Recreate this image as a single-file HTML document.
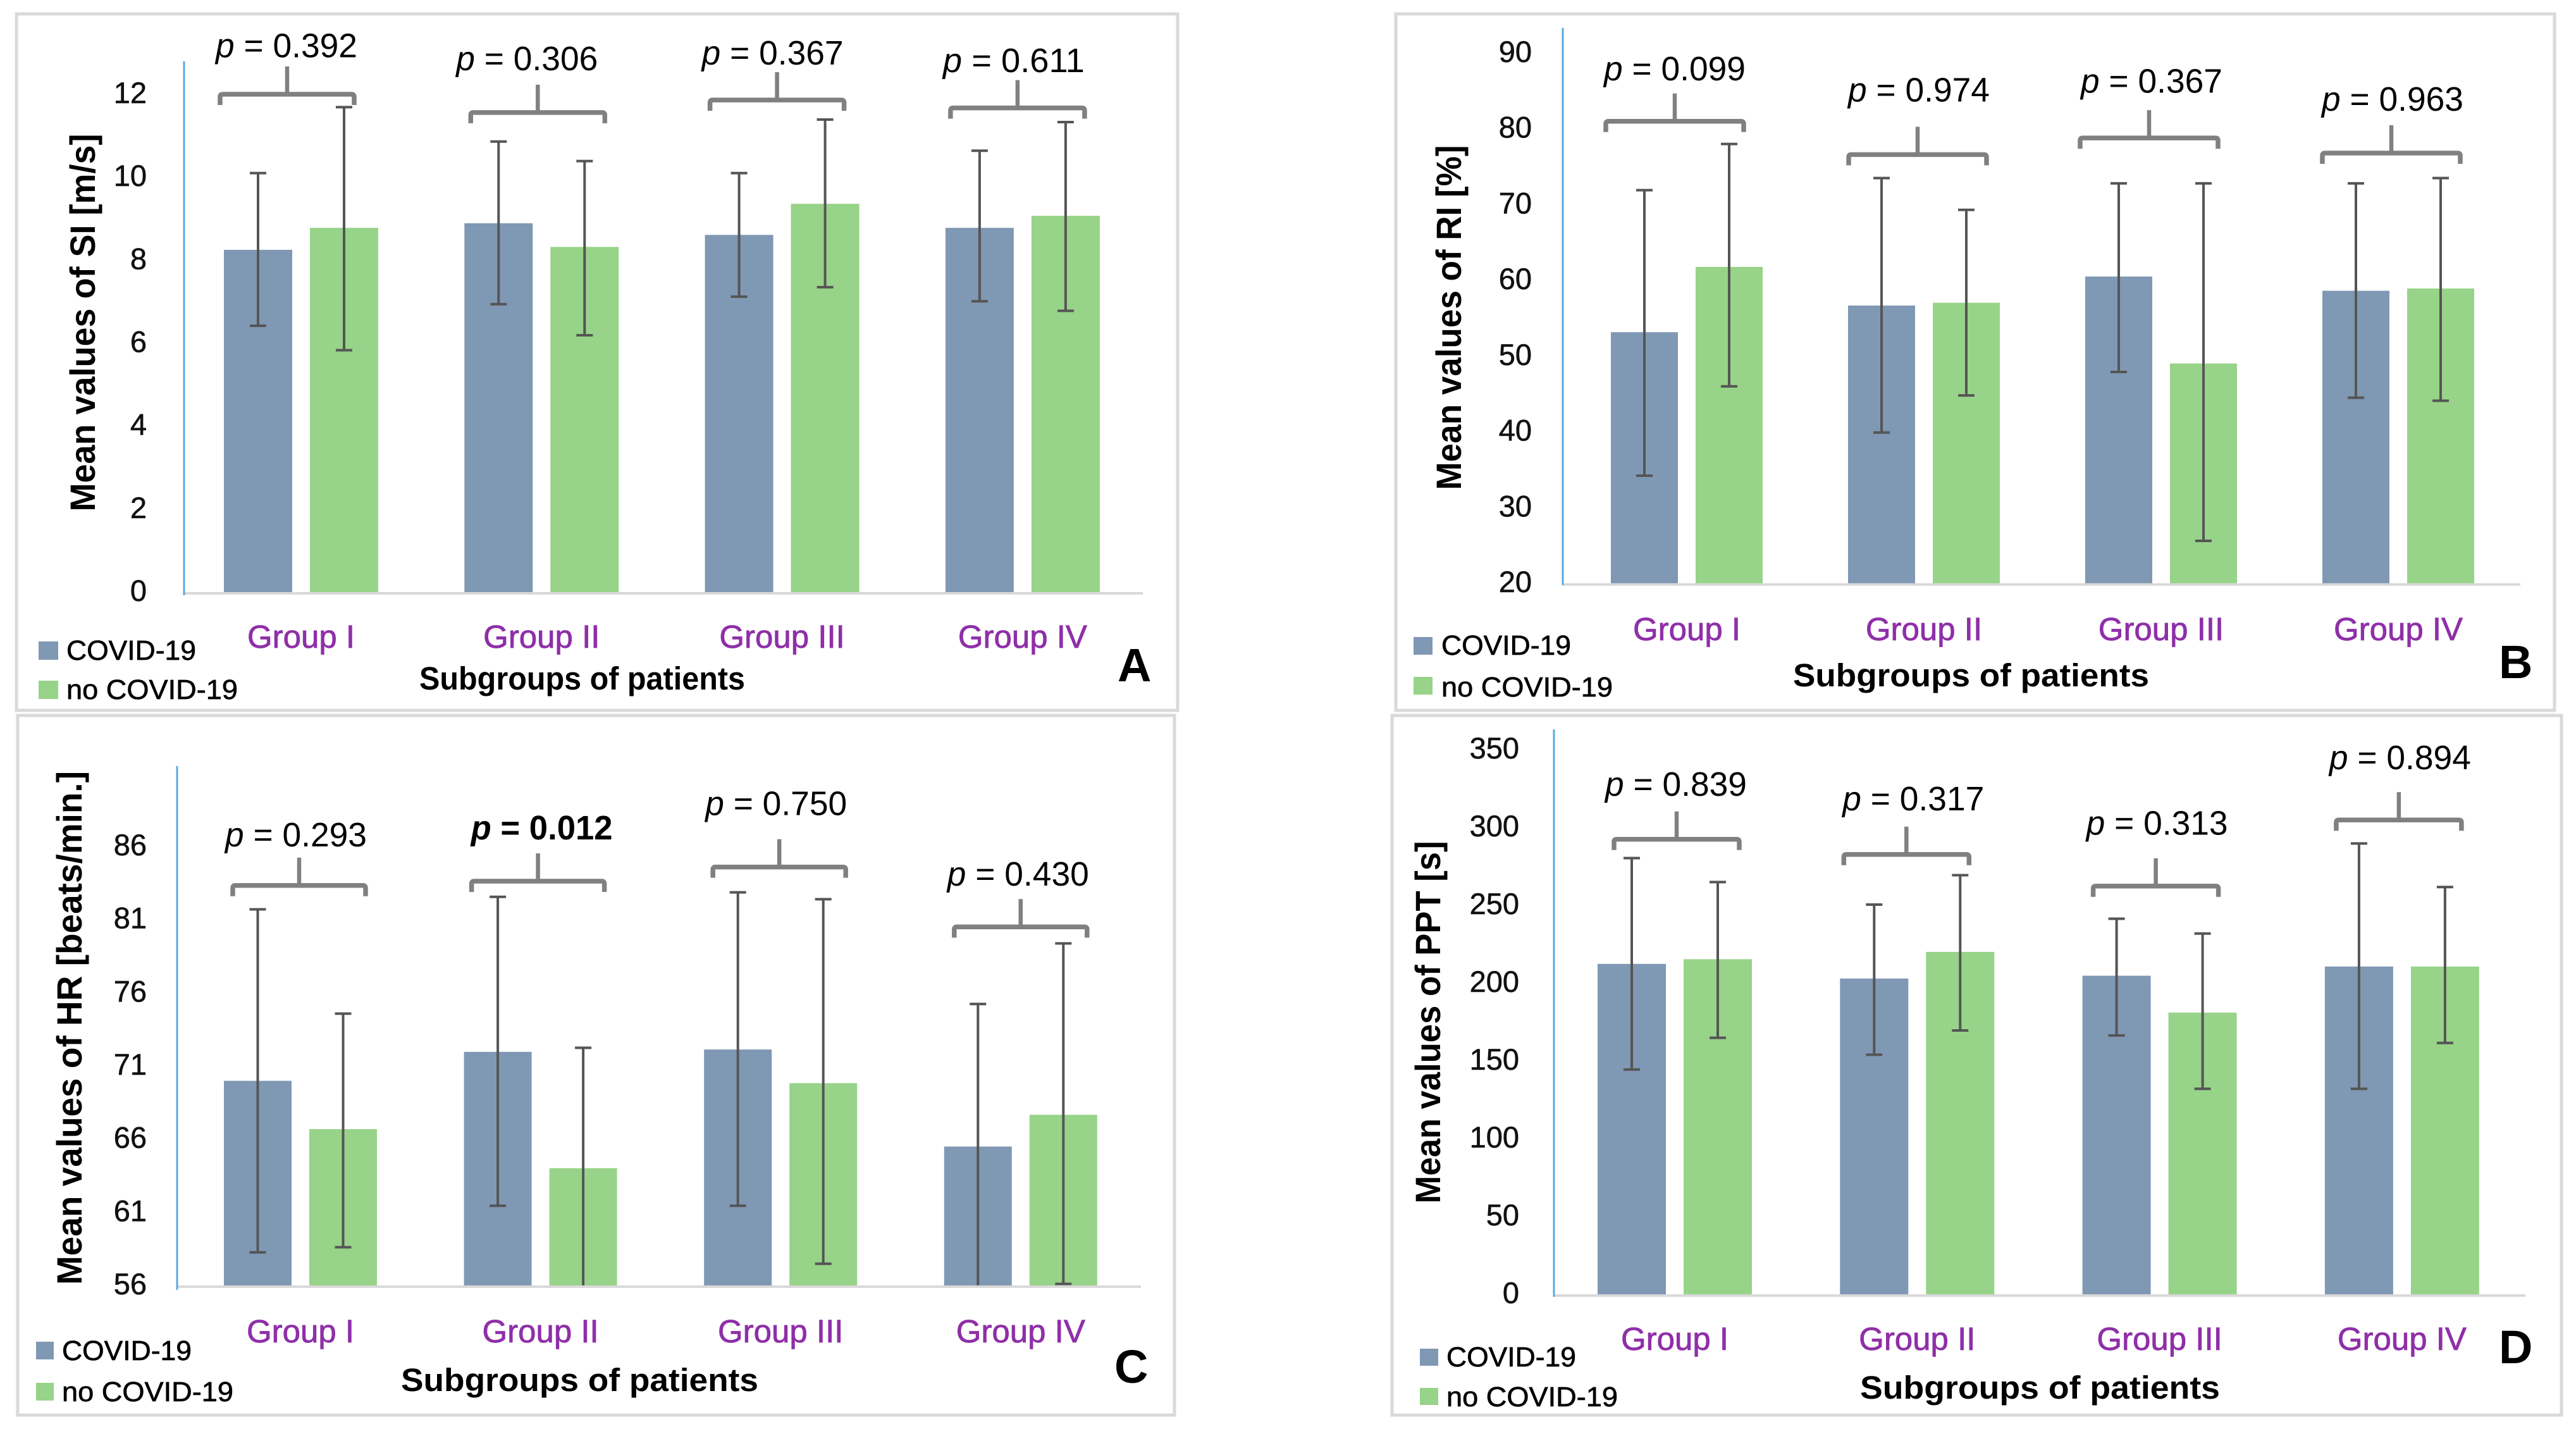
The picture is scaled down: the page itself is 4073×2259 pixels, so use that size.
<!DOCTYPE html>
<html lang="en">
<head>
<meta charset="utf-8">
<title>Mean values by subgroup of patients, COVID-19 vs no COVID-19</title>
<style>
html,body{margin:0;padding:0;background:#fff}
svg{display:block;font-family:"Liberation Sans",sans-serif}
</style>
</head>
<body>
<svg id="figure" xmlns="http://www.w3.org/2000/svg" width="4073" height="2259" viewBox="0 0 4073 2259"></svg>
<script>
const categories = ['Group I', 'Group II', 'Group III', 'Group IV'];
const seriesNames = ['COVID-19', 'no COVID-19'];

const siTicks = [0, 2, 4, 6, 8, 10, 12];
const siCovidMeans = [8.25, 8.89, 8.61, 8.78];
const siNoCovidMeans = [8.78, 8.32, 9.36, 9.07];
const siCovidUpper = [10.10, 10.86, 10.10, 10.64];
const siCovidLower = [6.42, 6.94, 7.12, 7.01];
const siNoCovidUpper = [11.69, 10.39, 11.39, 11.33];
const siNoCovidLower = [5.83, 6.19, 7.35, 6.78];
const siPValues = [0.392, 0.306, 0.367, 0.611];
const siBracketLevels = [12.0, 11.56, 11.86, 11.67];
const siPLabelLevels = [12.89, 12.58, 12.72, 12.53];

const riTicks = [20, 30, 40, 50, 60, 70, 80, 90];
const riCovidMeans = [53.15, 56.67, 60.5, 58.62];
const riNoCovidMeans = [61.77, 57.04, 49.02, 58.92];
const riCovidUpper = [71.9, 73.5, 72.8, 72.8];
const riCovidLower = [34.2, 39.9, 47.9, 44.5];
const riNoCovidUpper = [78.0, 69.3, 72.8, 73.5];
const riNoCovidLower = [46.0, 44.8, 25.6, 44.1];
const riPValues = [0.099, 0.974, 0.367, 0.963];
const riBracketLevels = [81.0, 76.6, 78.8, 76.8];
const riPLabelLevels = [86.4, 83.6, 84.8, 82.4];

const hrTicks = [56, 61, 66, 71, 76, 81, 86];
const hrCovidMeans = [69.98, 71.96, 72.12, 65.49];
const hrNoCovidMeans = [66.68, 64.01, 69.82, 67.66];
const hrCovidUpper = [81.7, 82.55, 82.86, 75.23];
const hrCovidLower = [58.26, 61.44, 61.44, 55.6];
const hrNoCovidUpper = [74.57, 72.24, 82.39, 79.37];
const hrNoCovidLower = [58.61, 55.6, 57.48, 56.1];
const hrPValues = [0.293, 0.012, 0.750, 0.430];
const hrBracketLevels = [83.33, 83.62, 84.59, 80.5];
const hrPLabelLevels = [86.0, 86.47, 88.14, 83.33];

const pptTicks = [0, 50, 100, 150, 200, 250, 300, 350];
const pptCovidMeans = [212.3, 202.9, 204.7, 210.6];
const pptNoCovidMeans = [215.3, 220, 181, 210.6];
const pptCovidUpper = [280.3, 250.4, 241.3, 289.7];
const pptCovidLower = [144.4, 153.9, 166.3, 132];
const pptNoCovidUpper = [264.9, 269.3, 231.8, 261.7];
const pptNoCovidLower = [164.8, 169.5, 132, 161.5];
const pptPValues = [0.839, 0.317, 0.313, 0.894];
const pptBracketLevels = [292.4, 282.6, 262.3, 304.8];
const pptPLabelLevels = [320.4, 311, 295.3, 337.3];

const NS = 'http://www.w3.org/2000/svg';
const BLUE = '#7f98b4';
const GREEN = '#97d388';
const ERR = '#555555';
const BRK = '#808080';
const GRID = '#d9d9d9';
const AXIS = '#5aa9df';
const PURPLE = '#8f2fa8';
const svg = document.getElementById('figure');

function mk(tag, attrs, parent) {
  const n = document.createElementNS(NS, tag);
  for (const k in attrs) n.setAttribute(k, attrs[k]);
  parent.appendChild(n);
  return n;
}
function mkText(str, attrs, parent) {
  const n = mk('text', attrs, parent);
  n.textContent = str;
  return n;
}

const panels = [
  { key: 'si', letter: 'A', title: 'Mean values of SI [m/s]', ticks: siTicks,
    means: [siCovidMeans, siNoCovidMeans], upper: [siCovidUpper, siNoCovidUpper], lower: [siCovidLower, siNoCovidLower],
    pValues: siPValues, bracketLevels: siBracketLevels, pLabelLevels: siPLabelLevels,
    box: { x: 26, y: 22, r: 1862, b: 1123 }, axisX: 291, axisTop: 97, axisBottom: 941, baseEnd: 1807, yBase: 936, yLast: 149,
    first: 476, step: 380.3, barW: 108, gap: 28, tickX: 232,
    bracketW: 212, bracketShift: [-22, -6, -8, -8], pShift: [-23, -23, -15, -14],
    yTitleX: 150, yTitleY: 510, yTitleLen: 597, catY: 1024,
    legendX: 61, legendW: 31, legendY: [1014, 1076], legendH: 29, legendTextX: 105, legendTextY: [1043, 1105],
    xTitleX: 663, xTitleY: 1090, xTitleLen: 515, letterX: 1767, letterY: 1077 },
  { key: 'ri', letter: 'B', title: 'Mean values of RI [%]', ticks: riTicks,
    means: [riCovidMeans, riNoCovidMeans], upper: [riCovidUpper, riNoCovidUpper], lower: [riCovidLower, riNoCovidLower],
    pValues: riPValues, bracketLevels: riBracketLevels, pLabelLevels: riPLabelLevels,
    box: { x: 2207, y: 22, r: 4039, b: 1123 }, axisX: 2471, axisTop: 44, axisBottom: 925, baseEnd: 3985, yBase: 922, yLast: 84,
    first: 2667, step: 375, barW: 106, gap: 28, tickX: 2422,
    bracketW: 218, bracketShift: [-19, -10, -19, -11], pShift: [-19, -8, -15, -9],
    yTitleX: 2310, yTitleY: 502, yTitleLen: 545, catY: 1012,
    legendX: 2235, legendW: 30, legendY: [1007, 1070], legendH: 28, legendTextX: 2279, legendTextY: [1035, 1101],
    xTitleX: 2835, xTitleY: 1085, xTitleLen: 563, letterX: 3951, letterY: 1072 },
  { key: 'hr', letter: 'C', title: 'Mean values of HR [beats/min.]', ticks: hrTicks,
    means: [hrCovidMeans, hrNoCovidMeans], upper: [hrCovidUpper, hrNoCovidUpper], lower: [hrCovidLower, hrNoCovidLower],
    pValues: hrPValues, bracketLevels: hrBracketLevels, pLabelLevels: hrPLabelLevels,
    box: { x: 28, y: 1131, r: 1857, b: 2237 }, axisX: 280, axisTop: 1211, axisBottom: 2039, baseEnd: 1804, yBase: 2032, yLast: 1338,
    first: 475, step: 379.6, barW: 107, gap: 28, tickX: 232,
    bracketW: 210, bracketShift: [-2, -4, -2, 0], pShift: [-7, 2, -7, -4],
    yTitleX: 129, yTitleY: 1625, yTitleLen: 812, catY: 2122,
    legendX: 57, legendW: 28, legendY: [2121, 2186], legendH: 28, legendTextX: 98, legendTextY: [2150, 2215],
    xTitleX: 634, xTitleY: 2199, xTitleLen: 565, letterX: 1762, letterY: 2186 },
  { key: 'ppt', letter: 'D', title: 'Mean values of PPT [s]', ticks: pptTicks,
    means: [pptCovidMeans, pptNoCovidMeans], upper: [pptCovidUpper, pptNoCovidUpper], lower: [pptCovidLower, pptNoCovidLower],
    pValues: pptPValues, bracketLevels: pptBracketLevels, pLabelLevels: pptPLabelLevels,
    box: { x: 2201, y: 1131, r: 4050, b: 2237 }, axisX: 2457, axisTop: 1153, axisBottom: 2050, baseEnd: 3993, yBase: 2046, yLast: 1185,
    first: 2648, step: 383.3, barW: 108, gap: 28, tickX: 2402,
    bracketW: 198, bracketShift: [3, -17, -6, -5], pShift: [2, -6, -4, -3],
    yTitleX: 2277, yTitleY: 1616, yTitleLen: 573, catY: 2134,
    legendX: 2245, legendW: 29, legendY: [2132, 2194], legendH: 27, legendTextX: 2287, legendTextY: [2160, 2223],
    xTitleX: 2941, xTitleY: 2211, xTitleLen: 569, letterX: 3951, letterY: 2155 }
];

function drawPanel(p) {
  const first = p.ticks[0];
  const last = p.ticks[p.ticks.length - 1];
  const yScale = v => p.yBase - (v - first) * (p.yBase - p.yLast) / (last - first);
  const groupX = i => p.first + i * p.step;
  const barOffset = (p.barW + p.gap) / 2;

  const g = mk('g', {}, svg);
  
  

  const frame = mk('rect', { x: p.box.x, y: p.box.y, width: p.box.r - p.box.x, height: p.box.b - p.box.y, fill: '#fff', stroke: GRID, 'stroke-width': 5 }, g);
  
  

  const baseLine = mk('line', { x1: p.axisX, x2: p.baseEnd, y1: p.yBase + 2, y2: p.yBase + 2, stroke: GRID, 'stroke-width': 4 }, g);
  
  

  const axisLine = mk('line', { x1: p.axisX, x2: p.axisX, y1: p.axisTop, y2: p.axisBottom, stroke: AXIS, 'stroke-width': 3 }, g);
  
  

  p.ticks.forEach(t => {
    const label = mkText(String(t), { x: p.tickX, y: yScale(t) + 14, 'font-size': 47, 'text-anchor': 'end', fill: '#111', stroke: '#111', 'stroke-width': 0.6 }, g);
    
    
  });

  const yTitle = mkText(p.title, { transform: 'translate(' + p.yTitleX + ',' + p.yTitleY + ') rotate(-90)', 'font-size': 56, 'font-weight': 'bold', 'text-anchor': 'middle', textLength: p.yTitleLen, lengthAdjust: 'spacingAndGlyphs', fill: '#000' }, g);
  
  

  categories.forEach((cat, i) => {
    const cx = groupX(i);
    [0, 1].forEach(s => {
      const bx = cx + (s === 0 ? -barOffset : barOffset);
      const top = yScale(p.means[s][i]);
      const bar = mk('rect', { x: bx - p.barW / 2, y: top, width: p.barW, height: p.yBase - top, fill: s === 0 ? BLUE : GREEN }, g);
      
      

      const up = yScale(p.upper[s][i]);
      const lo = yScale(p.lower[s][i]);
      const clipped = lo > p.yBase;
      const loEnd = clipped ? p.yBase : lo;
      let d = 'M' + (bx - 13) + ' ' + up + 'H' + (bx + 13) + 'M' + bx + ' ' + up + 'V' + loEnd;
      if (!clipped) d += 'M' + (bx - 13) + ' ' + lo + 'H' + (bx + 13);
      const err = mk('path', { d: d, fill: 'none', stroke: ERR, 'stroke-width': 4 }, g);
      
      
    });

    const catLabel = mkText(cat, { x: cx, y: p.catY, 'font-size': 51, 'text-anchor': 'middle', fill: PURPLE, stroke: PURPLE, 'stroke-width': 0.8 }, g);
    
    

    const bc = cx + p.bracketShift[i];
    const by = yScale(p.bracketLevels[i]);
    const hw = p.bracketW / 2;
    const bracket = mk('path', { d: 'M' + (bc - hw) + ' ' + (by + 17) + 'V' + (by + 4) + 'Q' + (bc - hw) + ' ' + by + ' ' + (bc - hw + 4) + ' ' + by + 'H' + (bc + hw - 4) + 'Q' + (bc + hw) + ' ' + by + ' ' + (bc + hw) + ' ' + (by + 4) + 'V' + (by + 17), fill: 'none', stroke: BRK, 'stroke-width': 7.5 }, g);
    
    

    const stem = mk('line', { x1: bc, x2: bc, y1: by, y2: by - 44, stroke: BRK, 'stroke-width': 6.5 }, g);
    
    

    const pv = p.pValues[i];
    const pLabel = mk('text', { x: cx + p.pShift[i], y: yScale(p.pLabelLevels[i]), 'font-size': 54, 'text-anchor': 'middle', fill: '#000', 'font-weight': pv < 0.05 ? 'bold' : 'normal', textLength: 224, lengthAdjust: 'spacingAndGlyphs' }, g);
    
    
    const pItalic = mk('tspan', { 'font-style': 'italic' }, pLabel);
    pItalic.textContent = 'p';
    pLabel.appendChild(document.createTextNode(' = ' + pv.toFixed(3)));
  });

  seriesNames.forEach((name, s) => {
    const swatch = mk('rect', { x: p.legendX, y: p.legendY[s], width: p.legendW, height: p.legendH, fill: s === 0 ? BLUE : GREEN }, g);
    
    

    const entry = mkText(name, { x: p.legendTextX, y: p.legendTextY[s], 'font-size': 44, fill: '#000', stroke: '#000', 'stroke-width': 0.7, textLength: s === 0 ? 205 : 271, lengthAdjust: 'spacingAndGlyphs' }, g);
    
    
  });

  const xTitle = mkText('Subgroups of patients', { x: p.xTitleX, y: p.xTitleY, 'font-size': 51, 'font-weight': 'bold', fill: '#000', textLength: p.xTitleLen, lengthAdjust: 'spacingAndGlyphs' }, g);
  
  

  const letter = mkText(p.letter, { x: p.letterX, y: p.letterY, 'font-size': 74, 'font-weight': 'bold', fill: '#000' }, g);
  
  
}

panels.forEach(drawPanel);
</script>
</body>
</html>
